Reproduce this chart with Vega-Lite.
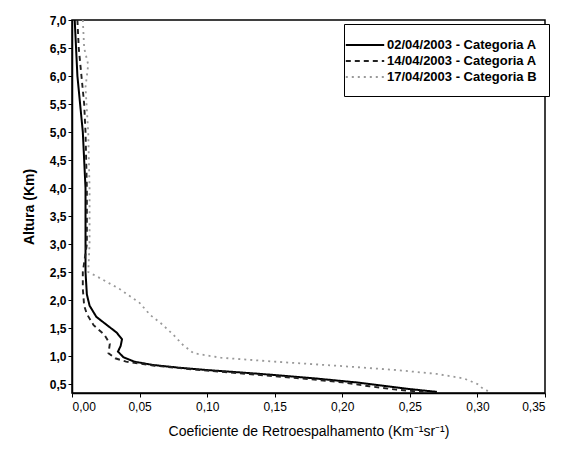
{
  "$schema": "https://vega.github.io/schema/vega-lite/v6.json",
  "width": 473,
  "height": 373,
  "autosize": "none",
  "padding": {"left": 72, "top": 20, "right": 31, "bottom": 62},
  "background": "white",
  "config": {
    "font": "Liberation Sans",
    "view": {"stroke": "black", "strokeWidth": 1.5},
    "axis": {"domainColor": "black", "tickColor": "black", "labelColor": "black", "titleColor": "black", "grid": false, "domainWidth": 1.5}
  },
  "data": {
    "values": [
      {"s": "02/04/2003 - Categoria A", "i": 1, "x": 0.002, "y": 7.0},
      {"s": "02/04/2003 - Categoria A", "i": 2, "x": 0.003, "y": 6.5},
      {"s": "02/04/2003 - Categoria A", "i": 3, "x": 0.004, "y": 6.0},
      {"s": "02/04/2003 - Categoria A", "i": 4, "x": 0.006, "y": 5.5},
      {"s": "02/04/2003 - Categoria A", "i": 5, "x": 0.008, "y": 5.0},
      {"s": "02/04/2003 - Categoria A", "i": 6, "x": 0.009, "y": 4.5},
      {"s": "02/04/2003 - Categoria A", "i": 7, "x": 0.010, "y": 4.0},
      {"s": "02/04/2003 - Categoria A", "i": 8, "x": 0.010, "y": 3.0},
      {"s": "02/04/2003 - Categoria A", "i": 9, "x": 0.010, "y": 2.5},
      {"s": "02/04/2003 - Categoria A", "i": 10, "x": 0.011, "y": 2.1},
      {"s": "02/04/2003 - Categoria A", "i": 11, "x": 0.013, "y": 1.9},
      {"s": "02/04/2003 - Categoria A", "i": 12, "x": 0.018, "y": 1.7},
      {"s": "02/04/2003 - Categoria A", "i": 13, "x": 0.026, "y": 1.55},
      {"s": "02/04/2003 - Categoria A", "i": 14, "x": 0.033, "y": 1.42},
      {"s": "02/04/2003 - Categoria A", "i": 15, "x": 0.037, "y": 1.3},
      {"s": "02/04/2003 - Categoria A", "i": 16, "x": 0.036, "y": 1.18},
      {"s": "02/04/2003 - Categoria A", "i": 17, "x": 0.034, "y": 1.08},
      {"s": "02/04/2003 - Categoria A", "i": 18, "x": 0.038, "y": 0.98},
      {"s": "02/04/2003 - Categoria A", "i": 19, "x": 0.046, "y": 0.9},
      {"s": "02/04/2003 - Categoria A", "i": 20, "x": 0.06, "y": 0.84},
      {"s": "02/04/2003 - Categoria A", "i": 21, "x": 0.08, "y": 0.79},
      {"s": "02/04/2003 - Categoria A", "i": 22, "x": 0.10, "y": 0.75},
      {"s": "02/04/2003 - Categoria A", "i": 23, "x": 0.14, "y": 0.68},
      {"s": "02/04/2003 - Categoria A", "i": 24, "x": 0.18, "y": 0.60},
      {"s": "02/04/2003 - Categoria A", "i": 25, "x": 0.21, "y": 0.53},
      {"s": "02/04/2003 - Categoria A", "i": 26, "x": 0.23, "y": 0.47},
      {"s": "02/04/2003 - Categoria A", "i": 27, "x": 0.25, "y": 0.41},
      {"s": "02/04/2003 - Categoria A", "i": 28, "x": 0.27, "y": 0.36},
      {"s": "14/04/2003 - Categoria A", "i": 1, "x": 0.004, "y": 7.0},
      {"s": "14/04/2003 - Categoria A", "i": 2, "x": 0.005, "y": 6.5},
      {"s": "14/04/2003 - Categoria A", "i": 3, "x": 0.007, "y": 6.0},
      {"s": "14/04/2003 - Categoria A", "i": 4, "x": 0.009, "y": 5.5},
      {"s": "14/04/2003 - Categoria A", "i": 5, "x": 0.010, "y": 5.0},
      {"s": "14/04/2003 - Categoria A", "i": 6, "x": 0.011, "y": 4.0},
      {"s": "14/04/2003 - Categoria A", "i": 7, "x": 0.011, "y": 3.0},
      {"s": "14/04/2003 - Categoria A", "i": 8, "x": 0.008, "y": 2.5},
      {"s": "14/04/2003 - Categoria A", "i": 9, "x": 0.008, "y": 2.2},
      {"s": "14/04/2003 - Categoria A", "i": 10, "x": 0.009, "y": 1.9},
      {"s": "14/04/2003 - Categoria A", "i": 11, "x": 0.011, "y": 1.75},
      {"s": "14/04/2003 - Categoria A", "i": 12, "x": 0.016, "y": 1.55},
      {"s": "14/04/2003 - Categoria A", "i": 13, "x": 0.024, "y": 1.38},
      {"s": "14/04/2003 - Categoria A", "i": 14, "x": 0.028, "y": 1.22},
      {"s": "14/04/2003 - Categoria A", "i": 15, "x": 0.027, "y": 1.05},
      {"s": "14/04/2003 - Categoria A", "i": 16, "x": 0.032, "y": 0.96},
      {"s": "14/04/2003 - Categoria A", "i": 17, "x": 0.04, "y": 0.9},
      {"s": "14/04/2003 - Categoria A", "i": 18, "x": 0.06, "y": 0.83},
      {"s": "14/04/2003 - Categoria A", "i": 19, "x": 0.09, "y": 0.76},
      {"s": "14/04/2003 - Categoria A", "i": 20, "x": 0.13, "y": 0.68},
      {"s": "14/04/2003 - Categoria A", "i": 21, "x": 0.17, "y": 0.60},
      {"s": "14/04/2003 - Categoria A", "i": 22, "x": 0.20, "y": 0.53},
      {"s": "14/04/2003 - Categoria A", "i": 23, "x": 0.22, "y": 0.46},
      {"s": "14/04/2003 - Categoria A", "i": 24, "x": 0.24, "y": 0.40},
      {"s": "14/04/2003 - Categoria A", "i": 25, "x": 0.26, "y": 0.36},
      {"s": "17/04/2003 - Categoria B", "i": 1, "x": 0.008, "y": 7.0},
      {"s": "17/04/2003 - Categoria B", "i": 2, "x": 0.009, "y": 6.5},
      {"s": "17/04/2003 - Categoria B", "i": 3, "x": 0.012, "y": 6.2},
      {"s": "17/04/2003 - Categoria B", "i": 4, "x": 0.010, "y": 5.8},
      {"s": "17/04/2003 - Categoria B", "i": 5, "x": 0.012, "y": 5.0},
      {"s": "17/04/2003 - Categoria B", "i": 6, "x": 0.013, "y": 4.0},
      {"s": "17/04/2003 - Categoria B", "i": 7, "x": 0.013, "y": 3.0},
      {"s": "17/04/2003 - Categoria B", "i": 8, "x": 0.012, "y": 2.5},
      {"s": "17/04/2003 - Categoria B", "i": 9, "x": 0.02, "y": 2.4},
      {"s": "17/04/2003 - Categoria B", "i": 10, "x": 0.035, "y": 2.2},
      {"s": "17/04/2003 - Categoria B", "i": 11, "x": 0.05, "y": 1.95},
      {"s": "17/04/2003 - Categoria B", "i": 12, "x": 0.058, "y": 1.73},
      {"s": "17/04/2003 - Categoria B", "i": 13, "x": 0.066, "y": 1.58},
      {"s": "17/04/2003 - Categoria B", "i": 14, "x": 0.075, "y": 1.38},
      {"s": "17/04/2003 - Categoria B", "i": 15, "x": 0.082, "y": 1.2},
      {"s": "17/04/2003 - Categoria B", "i": 16, "x": 0.09, "y": 1.05},
      {"s": "17/04/2003 - Categoria B", "i": 17, "x": 0.11, "y": 0.97},
      {"s": "17/04/2003 - Categoria B", "i": 18, "x": 0.15, "y": 0.9},
      {"s": "17/04/2003 - Categoria B", "i": 19, "x": 0.20, "y": 0.82},
      {"s": "17/04/2003 - Categoria B", "i": 20, "x": 0.24, "y": 0.75},
      {"s": "17/04/2003 - Categoria B", "i": 21, "x": 0.27, "y": 0.68},
      {"s": "17/04/2003 - Categoria B", "i": 22, "x": 0.29, "y": 0.60},
      {"s": "17/04/2003 - Categoria B", "i": 23, "x": 0.30, "y": 0.50},
      {"s": "17/04/2003 - Categoria B", "i": 24, "x": 0.305, "y": 0.40},
      {"s": "17/04/2003 - Categoria B", "i": 25, "x": 0.31, "y": 0.36}
    ]
  },
  "mark": {"type": "line", "clip": true},
  "encoding": {
    "x": {
      "field": "x", "type": "quantitative",
      "scale": {"domain": [0, 0.35], "nice": false, "zero": false},
      "axis": {
        "values": [0, 0.05, 0.1, 0.15, 0.2, 0.25, 0.3, 0.35],
        "labelExpr": "replace(format(datum.value, '.2f'), '.', ',')",
        "labelFontSize": 12, "labelPadding": 4, "tickSize": 4,
        "title": "Coeficiente de Retroespalhamento (Km⁻¹sr⁻¹)",
        "titleFontSize": 14, "titleFontWeight": "normal", "titlePadding": 12
      }
    },
    "y": {
      "field": "y", "type": "quantitative",
      "scale": {"domain": [0.34, 7.0], "nice": false, "zero": false},
      "axis": {
        "values": [0.5, 1, 1.5, 2, 2.5, 3, 3.5, 4, 4.5, 5, 5.5, 6, 6.5, 7],
        "labelExpr": "replace(format(datum.value, '.1f'), '.', ',')",
        "labelFontSize": 12, "labelFontWeight": "bold", "tickSize": 4,
        "title": "Altura (Km)", "titleFontSize": 14, "titleFontWeight": "bold", "titlePadding": 13
      }
    },
    "order": {"field": "i", "type": "quantitative"},
    "strokeDash": {
      "field": "s", "type": "nominal",
      "scale": {"domain": ["02/04/2003 - Categoria A", "14/04/2003 - Categoria A", "17/04/2003 - Categoria B"], "range": [[1, 0], [5, 4], [2, 4]]}
    },
    "color": {
      "field": "s", "type": "nominal",
      "scale": {"domain": ["02/04/2003 - Categoria A", "14/04/2003 - Categoria A", "17/04/2003 - Categoria B"], "range": ["#000000", "#222222", "#999999"]},
      "legend": {
        "title": null, "orient": "none", "legendX": 272, "legendY": 4,
        "symbolType": "M-2.4,0H2.4", "symbolSize": 256, "symbolStrokeWidth": 1.5,
        "labelFontSize": 13, "labelFontWeight": "bold", "labelOffset": 13, "rowPadding": 0,
        "fillColor": "white", "strokeColor": "black", "padding": 12
      }
    },
    "strokeWidth": {
      "field": "s", "type": "nominal",
      "scale": {"domain": ["02/04/2003 - Categoria A", "14/04/2003 - Categoria A", "17/04/2003 - Categoria B"], "range": [2, 1.8, 1.8]}
    }
  }
}
